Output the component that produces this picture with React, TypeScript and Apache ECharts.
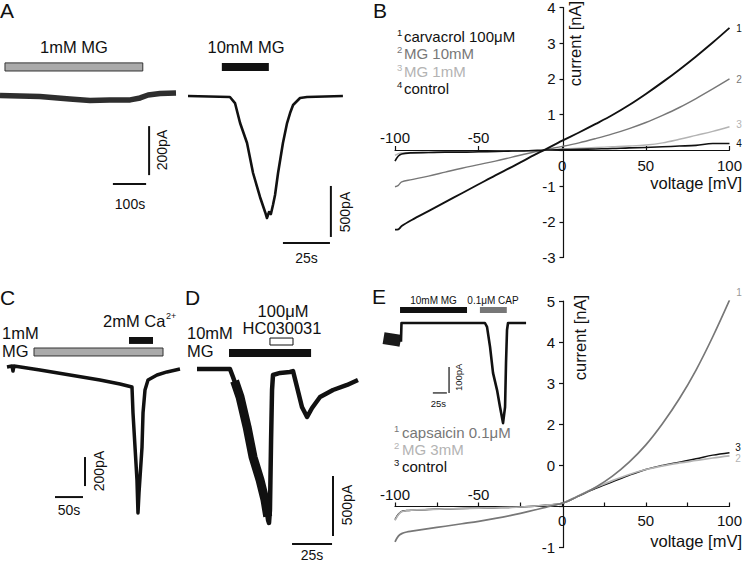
import React, { useEffect, useRef } from "react";
import * as echarts from "echarts";

const FONT = '"Liberation Sans", Arial, Helvetica, sans-serif';

// ---------- Panel A: current traces [time s, current pA] ----------
const traceA1: number[][] = [
  [0, -2], [60, -4], [120, -6], [210, -16], [271, -22], [330, -20], [392, -20],
  [422, -12], [446, 0], [482, 6], [530, 8],
];
const traceA2: number[][] = [
  [0, 0], [22.3, -10], [25, -69], [27.7, -265], [31.4, -461], [34.6, -755], [38.3, -990],
  [41, -1137], [42, -1196], [43.1, -1137], [44.1, -1157], [45.2, -1069], [46.3, -971],
  [47.9, -755], [50.5, -461], [52.7, -265], [54.3, -167], [55.9, -88], [59.6, -20],
  [63.3, -10], [82.4, 0],
];
// stimulus bars: [tStart, tEnd, pALow, pAHigh]
const stimA1 = [15, 430, 98, 131];
const stimA2 = [18, 43, 245, 323];
// scale bars: horizontal [t0, t1, pA], vertical [t, pA0, pA1]
const scaleA1H = [340, 440, -363];
const scaleA1V = [449, -127, -327];
const scaleA2H = [50.5, 75.5, -1441];
const scaleA2V = [76, -882, -1382];

// ---------- Panel B: I-V curves (mV, nA) ----------
const voltB = [-100, -98, -96, -90, -80, -70, -60, -50, -40, -30, -20, -10, 0, 10, 20, 30, 40, 50, 60, 70, 80, 90, 100];
const carvacrolB = [-2.22, -2.21, -2.12, -1.95, -1.7, -1.45, -1.2, -0.95, -0.7, -0.46, -0.21, 0.03, 0.27, 0.5, 0.74, 0.99, 1.27, 1.58, 1.91, 2.26, 2.63, 3.02, 3.43];
const mg10B = [-1.02, -0.98, -0.88, -0.82, -0.72, -0.61, -0.5, -0.4, -0.3, -0.19, -0.08, 0.02, 0.11, 0.21, 0.33, 0.46, 0.61, 0.78, 0.98, 1.2, 1.45, 1.72, 2.0];
const mg1B = [-0.14, -0.09, -0.07, -0.06, -0.06, -0.05, -0.05, -0.04, -0.03, -0.02, -0.01, 0.0, 0.04, 0.06, 0.08, 0.1, 0.12, 0.15, 0.21, 0.31, 0.42, 0.53, 0.66];
const controlB = [-0.3, -0.16, -0.1, -0.07, -0.06, -0.05, -0.05, -0.04, -0.03, -0.02, -0.01, 0.01, 0.02, 0.03, 0.04, 0.05, 0.07, 0.08, 0.1, 0.12, 0.14, 0.19, 0.19];

// ---------- Panel C / D traces ----------
const traceC: number[][] = [
  [0, 0], [8.9, 7], [10.7, -28], [12.5, 7], [58.9, -21], [112.5, -55], [166, -90],
  [201.8, -117], [223.2, -138], [225, -317], [228.6, -552], [232.1, -779], [233.9, -1007],
  [235.7, -869], [241.1, -552], [242.9, -317], [246.4, -159], [251.8, -90], [267.9, -55],
  [285.7, -34], [308.9, -14],
];
const stimCmg = [48.2, 278.6, 76, 131];
const stimCca = [217.9, 260.7, 159, 207];
const scaleCH = [85.7, 135.7, -897];
const scaleCV = [139.3, -621, -821];

const traceD: number[][] = [
  [0, 0], [20.6, 0], [22.5, -67], [26.9, -233], [31.3, -483], [35, -733], [39.4, -925],
  [42.5, -1092], [44.4, -1258], [45, -1283], [45.6, -1175], [46.3, -592], [46.9, -175],
  [47.5, -50], [51.9, -33], [58.1, -25], [60, -17], [62.5, -150], [65.6, -317], [68.8, -400],
  [71.9, -325], [76.9, -233], [85, -175], [93.8, -133], [100.6, -92],
];
const traceDdrop: number[][] = [
  [23.5, -100], [26.9, -233], [31.3, -483], [35, -733], [39.4, -925], [42.5, -1092], [44.2, -1230],
];
const stimDmg = [20, 71.3, 100, 167];
const stimDhc = [45.6, 60, 200, 258];
const scaleDH = [59.4, 84.4, -1458];
const scaleDV = [85, -892, -1392];

// ---------- Panel E inset trace ----------
const traceEpre: number[][] = [[1, -58], [12.5, -62], [26.8, -67], [31.5, -69]];
const traceEin: number[][] = [
  [32.1, -72], [33, 0], [182, 0], [185.7, -15], [191.1, -92], [196.4, -192], [203.6, -258],
  [208.9, -323], [214.3, -385], [217.9, -323], [219.6, -154], [221.4, -27], [223.2, 0], [255.4, 0],
];
const stimEmg = [30.4, 150, 38.5, 61.5];
const stimEcap = [173, 221, 38.5, 61.5];
const scaleEH = [89, 114, -269];
const scaleEV = [117.9, -169, -269];

// ---------- Panel E: I-V curves ----------
const voltE = [-100, -98, -96, -93, -90, -80, -70, -60, -50, -40, -30, -20, -10, 0, 10, 20, 30, 40, 50, 60, 70, 80, 90, 100];
const capsaicinE = [-0.86, -0.72, -0.66, -0.62, -0.6, -0.54, -0.48, -0.42, -0.36, -0.29, -0.21, -0.12, -0.02, 0.08, 0.26, 0.47, 0.74, 1.08, 1.5, 2.02, 2.62, 3.32, 4.13, 5.02];
const mg3E = [-0.34, -0.2, -0.13, -0.1, -0.09, -0.07, -0.06, -0.05, -0.04, -0.03, -0.02, 0.0, 0.03, 0.08, 0.27, 0.46, 0.63, 0.78, 0.9, 0.99, 1.06, 1.12, 1.18, 1.23];
const controlE = [-0.32, -0.19, -0.12, -0.1, -0.09, -0.07, -0.06, -0.05, -0.04, -0.03, -0.02, 0.0, 0.03, 0.08, 0.26, 0.44, 0.6, 0.76, 0.9, 1.0, 1.08, 1.16, 1.25, 1.31];

const BLACK = "#111";
const DARK = "#777";
const LIGHT = "#b3b3b3";

function zip(x: number[], y: number[]) {
  return x.map((v, i) => [v, y[i]]);
}

function hiddenAxes(grid: number, xr: number[], yr: number[]) {
  return {
    x: { gridIndex: grid, type: "value", min: xr[0], max: xr[1], show: false },
    y: { gridIndex: grid, type: "value", min: yr[0], max: yr[1], show: false },
  };
}

function bar(s: number[], itemStyle: any) {
  return [{ xAxis: s[0], yAxis: s[2], itemStyle }, { xAxis: s[1], yAxis: s[3] }];
}

function trace(xi: number, yi: number, data: number[][], width: number, color: string, bars: any[] = []) {
  return {
    type: "line", xAxisIndex: xi, yAxisIndex: yi, data, symbol: "none", clip: false,
    lineStyle: { color, width, join: "round" }, silent: true,
    markArea: bars.length ? { silent: true, data: bars } : undefined,
  };
}

function scaleSeries(xi: number, yi: number, h: number[], v: number[], w = 2) {
  return [
    { type: "line", xAxisIndex: xi, yAxisIndex: yi, data: [[h[0], h[2]], [h[1], h[2]]], symbol: "none", clip: false, lineStyle: { color: BLACK, width: w }, silent: true },
    { type: "line", xAxisIndex: xi, yAxisIndex: yi, data: [[v[0], v[1]], [v[0], v[2]]], symbol: "none", clip: false, lineStyle: { color: BLACK, width: w }, silent: true },
  ];
}

function ivSeries(xi: number, yi: number, data: number[][], color: string, width: number) {
  return {
    type: "line", xAxisIndex: xi, yAxisIndex: yi, data, symbol: "none", smooth: 0.35,
    lineStyle: { color, width }, silent: true,
  };
}

function txt(x: number, y: number, text: string, o: any = {}) {
  return {
    type: "text", x, y, rotation: o.rot || 0, silent: true,
    style: {
      text, fontSize: o.size || 16.5, fontFamily: FONT, fill: o.color || BLACK,
      align: o.align || "center", verticalAlign: "middle",
    },
  };
}

const ROT = Math.PI / 2;

// grid geometry (pixels)
const GB = { left: 395, top: 6.7, width: 337, height: 250.8 };
const GE = { left: 395, top: 301, width: 336, height: 246.6 };

export default function App() {
  const ref = useRef<HTMLDivElement>(null);
  useEffect(() => {
    if (!ref.current) return;
    const chart = echarts.init(ref.current, undefined, { renderer: "svg" });

    const a1 = hiddenAxes(0, [0, 530], [-400, 150]);
    const a2 = hiddenAxes(1, [0, 85], [-1500, 400]);
    const c = hiddenAxes(3, [0, 310], [-1050, 250]);
    const d = hiddenAxes(4, [0, 101], [-1500, 300]);
    const ei = hiddenAxes(5, [0, 256], [-400, 80]);

    const axLine = { color: BLACK, width: 1.2 };
    const lab = { fontSize: 15, color: BLACK, fontFamily: FONT };

    // place the x axis on the y = 0 line and the y axis on x = 0, via offsets
    const zeroY = (g: any, ymin: number, ymax: number) => g.top + g.height * (ymax / (ymax - ymin));
    const zeroX = (g: any) => g.left + g.width / 2;

    const ivX = (grid: number, g: any, ymin: number, ymax: number, interval: number, top: boolean, margin: number) => {
      const z = zeroY(g, ymin, ymax);
      const offset = top ? -(z - g.top) : -(g.top + g.height - z);
      return {
        gridIndex: grid, type: "value", min: -100, max: 100, interval,
        position: top ? "top" : "bottom", offset,
        axisLine: { show: !top, onZero: false, lineStyle: axLine },
        axisTick: top ? { show: false } : { show: true, inside: true, length: 4, lineStyle: axLine },
        axisLabel: {
          ...lab, margin, showMinLabel: true, showMaxLabel: true,
          formatter: (v: number) => (v % 50 !== 0 ? "" : top ? (v < 0 ? String(v) : "") : v >= 0 ? String(v) : ""),
        },
        splitLine: { show: false },
      };
    };

    const ivY = (grid: number, g: any, min: number, max: number, fmt: (v: number) => string) => ({
      gridIndex: grid, type: "value", min, max, interval: 1, position: "left",
      offset: -(zeroX(g) - g.left),
      axisLine: { show: true, onZero: false, lineStyle: axLine },
      axisTick: { show: true, inside: false, length: 4, lineStyle: axLine },
      axisLabel: { ...lab, margin: 8, formatter: fmt, showMinLabel: true, showMaxLabel: true },
      splitLine: { show: false },
    });

    const xAxis = [
      a1.x, a2.x,
      ivX(2, GB, -3, 4, 50, false, 8), ivX(2, GB, -3, 4, 50, true, 6),
      c.x, d.x, ei.x,
      ivX(6, GE, -1, 5, 25, false, 6), ivX(6, GE, -1, 5, 25, true, 5),
    ];
    const yAxis = [
      a1.y, a2.y,
      ivY(2, GB, -3, 4, (v) => (v === 0 ? "" : String(v))),
      c.y, d.y, ei.y,
      ivY(6, GE, -1, 5, (v) => (v === 0 ? "" : v === 1 ? "0" : String(v))),
    ];

    const series: any[] = [
      // A
      trace(0, 0, traceA1, 5.5, "#2e2e2e", [bar(stimA1, { color: "#aaa", borderColor: "#333", borderWidth: 1 })]),
      ...scaleSeries(0, 0, scaleA1H, scaleA1V),
      trace(1, 1, traceA2, 2.6, BLACK, [bar(stimA2, { color: BLACK })]),
      ...scaleSeries(1, 1, scaleA2H, scaleA2V),
      // B
      ivSeries(2, 2, zip(voltB, mg1B), LIGHT, 1.4),
      ivSeries(2, 2, zip(voltB, mg10B), DARK, 1.4),
      ivSeries(2, 2, zip(voltB, controlB), BLACK, 1.6),
      ivSeries(2, 2, zip(voltB, carvacrolB), BLACK, 1.9),
      // C
      trace(4, 3, traceC, 3.5, BLACK, [
        bar(stimCmg, { color: "#aaa", borderColor: "#333", borderWidth: 1 }),
        bar(stimCca, { color: BLACK }),
      ]),
      ...scaleSeries(4, 3, scaleCH, scaleCV),
      // D
      trace(5, 4, traceD, 4.5, BLACK, [
        bar(stimDmg, { color: BLACK }),
        bar(stimDhc, { color: "#fff", borderColor: BLACK, borderWidth: 1 }),
      ]),
      trace(5, 4, traceDdrop, 9, BLACK),
      ...scaleSeries(5, 4, scaleDH, scaleDV),
      // E inset
      trace(6, 5, traceEpre, 12, "#1a1a1a"),
      trace(6, 5, traceEin, 2.6, BLACK, [bar(stimEmg, { color: BLACK }), bar(stimEcap, { color: DARK })]),
      ...scaleSeries(6, 5, scaleEH, scaleEV, 1.2),
      // E IV
      ivSeries(7, 6, zip(voltE, controlE), BLACK, 1.5),
      ivSeries(7, 6, zip(voltE, mg3E), LIGHT, 1.7),
      ivSeries(7, 6, zip(voltE, capsaicinE), DARK, 1.7),
    ];

    const graphic: any[] = [
      // letters
      txt(0, 10, "A", { size: 21, align: "left" }),
      txt(373, 10, "B", { size: 21, align: "left" }),
      txt(0, 297.5, "C", { size: 21, align: "left" }),
      txt(185, 297.5, "D", { size: 21, align: "left" }),
      txt(372, 296, "E", { size: 21, align: "left" }),
      // A
      txt(74, 47, "1mM MG"),
      txt(246, 47, "10mM MG"),
      txt(162, 150, "200pA", { size: 14, rot: ROT }),
      txt(130, 203.5, "100s", { size: 14 }),
      txt(345, 212, "500pA", { size: 14, rot: ROT }),
      txt(306.5, 257.5, "25s", { size: 14 }),
      // B legend
      txt(397, 32, "1", { size: 9.5, align: "left" }),
      txt(404, 36, "carvacrol 100μM", { size: 15, align: "left" }),
      txt(397, 49.5, "2", { size: 9.5, align: "left", color: DARK }),
      txt(404, 53.5, "MG 10mM", { size: 15, align: "left", color: DARK }),
      txt(397, 67, "3", { size: 9.5, align: "left", color: LIGHT }),
      txt(404, 71, "MG 1mM", { size: 15, align: "left", color: LIGHT }),
      txt(397, 84.5, "4", { size: 9.5, align: "left" }),
      txt(404, 88.5, "control", { size: 15, align: "left" }),
      txt(575, 1, "current [nA]", { rot: ROT, align: "right" }),
      txt(742, 183, "voltage [mV]", { align: "right" }),
      txt(739, 28, "1", { size: 10 }),
      txt(739, 79, "2", { size: 10, color: DARK }),
      txt(739, 124, "3", { size: 10, color: LIGHT }),
      txt(739, 143, "4", { size: 10 }),
      // C
      txt(2, 333, "1mM", { align: "left" }),
      txt(2, 351, "MG", { align: "left" }),
      txt(103, 321, "2mM Ca", { align: "left" }),
      txt(166, 316, "2+", { size: 9, align: "left" }),
      txt(99, 471, "200pA", { size: 14, rot: ROT }),
      txt(69, 510, "50s", { size: 14 }),
      // D
      txt(187, 333, "10mM", { align: "left" }),
      txt(187, 351, "MG", { align: "left" }),
      txt(283, 311, "100μM"),
      txt(282, 327.5, "HC030031"),
      txt(347, 505, "500pA", { size: 14, rot: ROT }),
      txt(312, 555, "25s", { size: 14 }),
      // E inset
      txt(433.5, 300, "10mM MG", { size: 10 }),
      txt(493, 300, "0.1μM CAP", { size: 10 }),
      txt(438.3, 403.3, "25s", { size: 9.5 }),
      txt(458.3, 377.3, "100pA", { size: 9.5, rot: ROT }),
      // E legend
      txt(394, 428, "1", { size: 9.5, align: "left", color: DARK }),
      txt(402, 432, "capsaicin 0.1μM", { size: 15, align: "left", color: DARK }),
      txt(394, 445, "2", { size: 9.5, align: "left", color: LIGHT }),
      txt(402, 449, "MG 3mM", { size: 15, align: "left", color: LIGHT }),
      txt(394, 462, "3", { size: 9.5, align: "left" }),
      txt(402, 466, "control", { size: 15, align: "left" }),
      txt(580, 295, "current [nA]", { rot: ROT, align: "right" }),
      txt(742, 541, "voltage [mV]", { align: "right" }),
      txt(739, 292, "1", { size: 10, color: "#999" }),
      txt(738, 447, "3", { size: 10 }),
      txt(738, 458, "2", { size: 10, color: LIGHT }),
    ];

    chart.setOption({
      animation: false,
      backgroundColor: "#fff",
      textStyle: { fontFamily: FONT },
      grid: [
        { left: 0, top: 58.25, width: 176, height: 134.75 },
        { left: 188, top: 55.2, width: 159.8, height: 193.8 },
        { ...GB },
        { left: 7, top: 330.75, width: 173.6, height: 188.5 },
        { left: 197, top: 333, width: 161.6, height: 216 },
        { left: 383, top: 302.2, width: 143.4, height: 124.8 },
        { ...GE },
      ],
      xAxis,
      yAxis,
      series,
      graphic,
    });
    return () => chart.dispose();
  }, []);
  return (
    <div
      ref={ref}
      style={{ position: "absolute", left: 0, top: 0, width: 745, height: 563, background: "#fff" }}
    />
  );
}
